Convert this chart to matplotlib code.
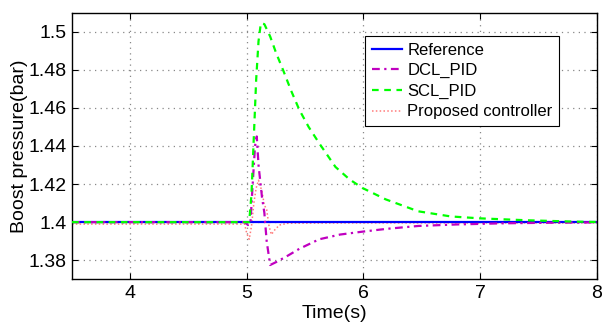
import matplotlib.pyplot as plt

plt.rcParams['font.family'] = ['Liberation Sans', 'DejaVu Sans']

# values
ref_t = [3.5, 8.0]
ref_p = [1.4, 1.4]

dcl_t = [3.5, 4.98, 5.01, 5.03, 5.05, 5.07, 5.085, 5.10, 5.13, 5.15, 5.17, 5.20,
         5.25, 5.34, 5.45, 5.62, 5.80, 5.99, 6.20, 6.47, 6.80, 7.20, 7.60, 8.0]
dcl_p = [1.4, 1.4, 1.3985, 1.399, 1.42, 1.44, 1.445, 1.43, 1.413, 1.405, 1.39, 1.3775,
         1.379, 1.382, 1.386, 1.391, 1.3935, 1.395, 1.3965, 1.398, 1.3988, 1.3994, 1.3997, 1.3999]

scl_t = [3.5, 5.02, 5.04, 5.06, 5.08, 5.10, 5.12, 5.15, 5.20, 5.25, 5.31, 5.38, 5.45,
         5.53, 5.62, 5.76, 5.88, 5.99, 6.19, 6.47, 6.75, 7.0, 7.4, 7.8, 8.0]
scl_p = [1.4, 1.4, 1.415, 1.445, 1.475, 1.495, 1.5045, 1.504, 1.4975, 1.489, 1.48, 1.469, 1.459,
         1.45, 1.4415, 1.429, 1.4225, 1.418, 1.412, 1.4057, 1.403, 1.402, 1.401, 1.4003, 1.4001]

prop_t = [3.5, 4.98, 5.00, 5.02, 5.04, 5.06, 5.08, 5.10, 5.13, 5.15, 5.17, 5.19, 5.21,
          5.24, 5.28, 5.35, 5.5, 6.0, 7.0, 8.0]
prop_p = [1.399, 1.399, 1.394, 1.391, 1.398, 1.41, 1.418, 1.422, 1.416, 1.409, 1.4065, 1.398, 1.3935,
          1.396, 1.3985, 1.3994, 1.3995, 1.3996, 1.3996, 1.3996]

fig = plt.figure(figsize=(6.02, 3.24), dpi=100)
ax = fig.add_axes([0.1196, 0.138, 0.8714, 0.8228])

ax.plot(ref_t, ref_p, color='#0000ff', lw=1.6, label='Reference', zorder=2.2)
ax.plot(dcl_t, dcl_p, color='#c000c0', lw=1.6, dashes=(3.5, 2, 1, 2), label='DCL_PID', zorder=2.4)
ax.plot(scl_t, scl_p, color='#00ff00', lw=1.6, dashes=(3, 2.5), label='SCL_PID', zorder=2.6)
ax.plot(prop_t, prop_p, color='#ff7a7a', lw=1.1, dashes=(1, 1.5), label='Proposed controller', zorder=2.0)

ax.set_xlim(3.5, 8)
ax.set_ylim(1.37, 1.51)
ax.set_xticks([4, 5, 6, 7, 8])
ax.set_yticks([1.38, 1.4, 1.42, 1.44, 1.46, 1.48, 1.5])
ax.set_yticklabels(['1.38', '1.4', '1.42', '1.44', '1.46', '1.48', '1.5'])
ax.grid(True, ls=(0, (1, 3.5)), color='#888888', lw=0.9)
ax.tick_params(labelsize=14, direction='in', length=4, pad=4, top=True, right=True)
ax.set_xlabel('Time(s)', fontsize=14, labelpad=2)
ax.set_ylabel('Boost pressure(bar)', fontsize=14, labelpad=0)
for s in ax.spines.values():
    s.set_linewidth(1.0)

leg = ax.legend(loc='upper left', bbox_to_anchor=(0.5585, 0.9126), fontsize=12,
                frameon=True, fancybox=False, edgecolor='black', framealpha=1,
                borderpad=0.4, labelspacing=0.33, handlelength=1.8, handletextpad=0.35,
                borderaxespad=0)
leg.get_frame().set_linewidth(0.8)

fig.savefig('out.png', dpi=100)
